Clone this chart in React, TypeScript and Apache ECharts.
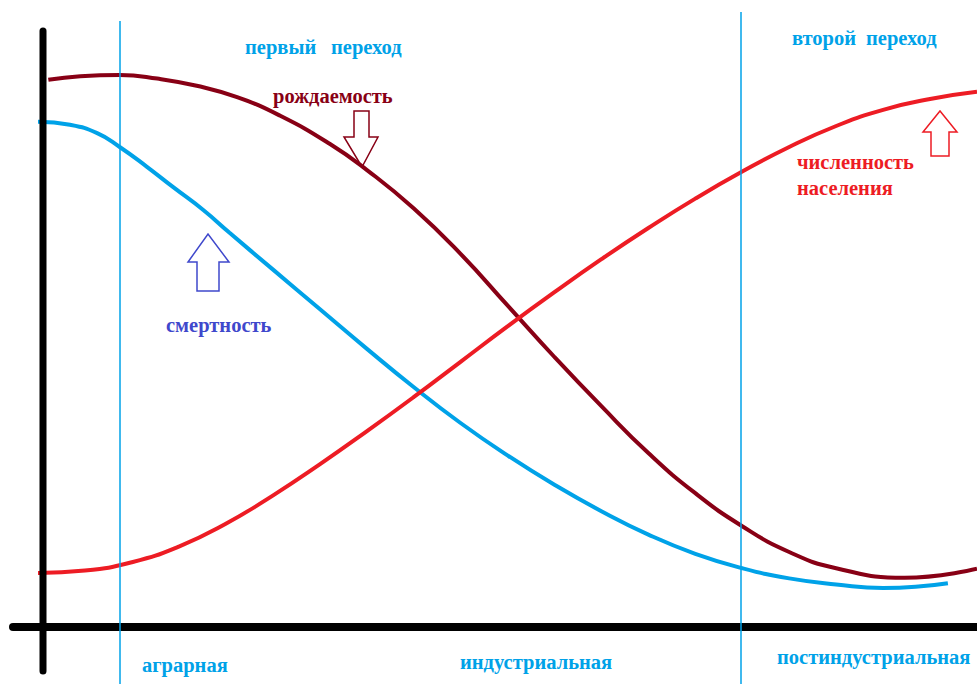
import React, { useEffect, useRef } from "react";
import * as echarts from "echarts";

// x: time (0..100), y: level (0..100 scale of the sketch)
const birthX = [1.1, 4.5, 8.7, 12.7, 16.9, 21.2, 25.8, 31.1, 35, 40, 45, 50, 55, 60, 65, 70, 75, 80, 85, 92.3, 100];
const birthY = [91.2, 91.8, 92.0, 91.4, 90.2, 88.3, 85.2, 80.5, 76.2, 69.8, 62.2, 53.6, 45.0, 36.8, 29.0, 22.3, 16.8, 12.5, 9.8, 8.2, 9.7];

const deathX = [0, 3.4, 6.3, 8.7, 11.6, 14.4, 17.6, 20.4, 25, 30, 35, 40, 45, 50, 55, 60, 65, 70, 75, 80, 85, 90, 96.9];
const deathY = [84.2, 83.7, 82.3, 80.0, 76.7, 73.3, 69.5, 65.7, 59.6, 53.0, 46.4, 40.0, 34.0, 28.6, 23.7, 19.3, 15.4, 12.2, 9.8, 8.1, 7.1, 6.5, 7.3];

const popX = [0, 5, 10, 15, 20, 25, 30, 35, 40, 45, 50, 55, 60, 65, 70, 75, 80, 85, 90, 95, 100];
const popY = [9.0, 9.4, 10.8, 13.4, 17.2, 21.9, 27.1, 32.6, 38.3, 44.2, 50.1, 55.8, 61.3, 66.5, 71.4, 75.9, 80.0, 83.5, 86.2, 88.0, 89.2];

const transitionX = [8.7, 74.8];
const transitionTop = [101, 102.5];

const seriesNames = ["рождаемость", "смертность", "численность населения"];
const eraLabels = ["аграрная", "индустриальная", "постиндустриальная"];
const transitionLabels = [["первый", "переход"], ["второй", "переход"]];

const BLUE = "#00A2E8";
const DARK_RED = "#880015";
const RED = "#ED1C24";
const INDIGO = "#3F48CC";
const FONT = "Liberation Serif";

const zip = (xs: number[], ys: number[]) => xs.map((x, i) => [x, ys[i]]);

export default function App() {
  const ref = useRef<HTMLDivElement>(null);
  useEffect(() => {
    if (!ref.current) return;
    const chart = echarts.init(ref.current, null, { renderer: "svg" });
    const txt = (text: string, x: number, y: number, fill: string) => ({
      type: "text",
      x,
      y,
      style: { text, fill, font: `bold 20.5px "${FONT}"`, textAlign: "left", textVerticalAlign: "middle" },
      z: 10,
    });
    const arrow = (pts: number[][], stroke: string) => ({
      type: "polygon",
      shape: { points: pts },
      style: { fill: "none", stroke, lineWidth: 1.5 },
      z: 10,
    });
    const line = (name: string, data: number[][], color: string) => ({
      name,
      type: "line",
      data,
      smooth: 0.5,
      showSymbol: false,
      lineStyle: { color, width: 4 },
      z: 3,
    });
    chart.setOption({
      animation: false,
      backgroundColor: "#ffffff",
      grid: { left: 38, right: 0, top: 0, bottom: 0 },
      xAxis: { type: "value", min: 0, max: 100, show: false },
      yAxis: { type: "value", min: -9.5, max: 104.5, show: false },
      series: [
        line(seriesNames[0], zip(birthX, birthY), DARK_RED),
        line(seriesNames[1], zip(deathX, deathY), BLUE),
        {
          ...line(seriesNames[2], zip(popX, popY), RED),
          markLine: {
            silent: true,
            symbol: ["none", "none"],
            label: { show: false },
            lineStyle: { color: BLUE, width: 1.5, type: "solid" },
            data: transitionX.map((x, i) => [
              { coord: [x, transitionTop[i]] },
              { coord: [x, -9.5] },
            ]),
          },
        },
      ],
      graphic: [
        { type: "line", shape: { x1: 43, y1: 31, x2: 43, y2: 671 }, style: { stroke: "#000", lineWidth: 7, lineCap: "round" }, z: 5 },
        { type: "line", shape: { x1: 13, y1: 627, x2: 980, y2: 627 }, style: { stroke: "#000", lineWidth: 8, lineCap: "round" }, z: 5 },
        txt(transitionLabels[0][0], 245, 47, BLUE),
        txt(transitionLabels[0][1], 331, 47, BLUE),
        txt(transitionLabels[1][0], 792, 38, BLUE),
        txt(transitionLabels[1][1], 866, 38, BLUE),
        txt(seriesNames[0], 273, 96, DARK_RED),
        txt("численность", 797, 162, RED),
        txt("населения", 797, 188, RED),
        txt(seriesNames[1], 166, 325, INDIGO),
        txt(eraLabels[0], 142, 665, BLUE),
        txt(eraLabels[1], 460, 662, BLUE),
        txt(eraLabels[2], 777, 657, BLUE),
        arrow([[354, 111], [369, 111], [369, 137], [378, 137], [362, 167], [344, 137], [354, 137]], DARK_RED),
        arrow([[197, 291], [219, 291], [219, 262], [229, 262], [208, 234], [188, 262], [197, 262]], INDIGO),
        arrow([[931, 156], [949, 156], [949, 132], [957, 132], [940, 111], [923, 132], [931, 132]], RED),
      ],
    });
    return () => chart.dispose();
  }, []);
  return <div ref={ref} style={{ position: "fixed", left: 0, top: 0, width: 977, height: 684 }} />;
}
